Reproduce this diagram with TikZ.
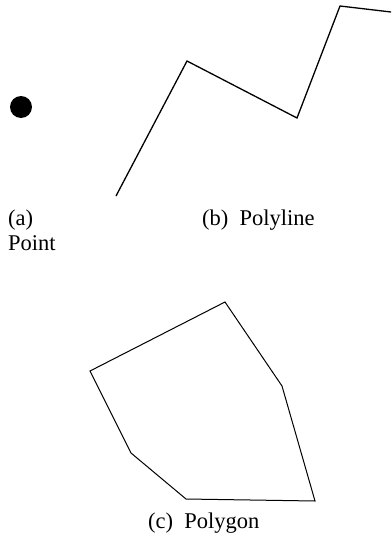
\documentclass[tikz,border=0pt]{standalone}
\usepackage{fontspec}
\setmainfont{Liberation Serif}
\usetikzlibrary{positioning}

\begin{document}
\begin{tikzpicture}[
    x=1pt, y=-1pt,
    shapeline/.style={draw=black, line join=miter},
    caption/.style={inner sep=0pt, anchor=base west, align=left, font=\fontsize{22.5}{25}\selectfont}
]
    \useasboundingbox (0,0) rectangle (391,535);

    % (a) point
    \fill (21,107) circle (11);
    \node [caption] (capa) at (8,250) {(a)\\Point};

    % (b) polyline
    \coordinate (l1) at (116,196);
    \coordinate (l2) at (187,61);
    \coordinate (l3) at (297,118);
    \coordinate (l4) at (340,6);
    \coordinate (l5) at (391,12);
    \draw [shapeline, line width=1.3pt] (l1) -- (l2) -- (l3) -- (l4) -- (l5);
    \node [caption] (capb) at (202,225) {(b)\enspace Polyline};

    % (c) polygon
    \coordinate (g1) at (225,302);
    \coordinate (g2) at (282,386);
    \coordinate (g3) at (315,501);
    \coordinate (g4) at (186,499);
    \coordinate (g5) at (131,453);
    \coordinate (g6) at (90,371);
    \draw [shapeline, line width=1pt] (g1) -- (g2) -- (g3) -- (g4) -- (g5) -- (g6) -- cycle;
    \node [caption] (capc) at (148,528) {(c)\enspace Polygon};
\end{tikzpicture}
\end{document}
